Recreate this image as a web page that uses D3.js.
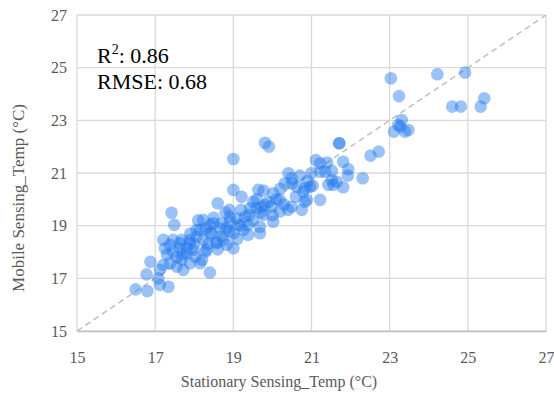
<!DOCTYPE html>
<html>
<head>
<meta charset="utf-8">
<script src="https://cdn.jsdelivr.net/npm/d3@7"></script>
<style>
html,body{margin:0;padding:0;background:#fff;}
svg{display:block;}
</style>
</head>
<body>
<svg id="chart" width="554" height="394"></svg>
<script>
const xTicks = [15,17,19,21,23,25,27];
const yTicks = [15,17,19,21,23,25,27];
const xTitle = "Stationary Sensing_Temp (°C)";
const yTitle = "Mobile Sensing_Temp (°C)";
const stationaryTemp = [
16.5,16.8,16.78,16.88,17.12,17.34,17.08,17.12,17.21,17.38,17.55,17.68,17.81,17.46,17.72,17.89,18.02,18.15,18.4,18.28,
17.89,18.06,18.23,18.15,18.4,18.49,18.57,17.64,17.38,17.25,17.21,17.46,17.68,17.64,17.81,17.98,18.32,17.89,18.06,18.23,
18.4,18.45,18.57,18.83,19.0,18.66,18.91,17.42,17.49,18.6,18.7,18.83,19.09,18.91,19.13,19.38,19.68,19.38,19.68,19.0,
19.26,19.3,19.43,19.51,19.6,19.73,19.81,19.98,20.19,20.02,19.77,20.49,20.75,19.0,19.21,19.0,19.81,19.91,19.64,19.77,
20.02,20.19,20.32,20.41,20.49,20.62,20.79,20.83,20.96,21.11,21.22,21.22,21.35,21.52,21.52,21.56,21.43,21.65,21.81,21.22,
21.03,20.83,20.88,21.71,21.71,22.51,22.72,22.31,21.94,21.93,21.81,23.03,24.22,24.93,23.24,24.6,24.82,25.33,25.42,23.31,
23.22,23.11,23.48,23.39,23.27,18.3,18.7,18.9,19.1,19.5,19.2,19.9,20.1,20.3,20.6,20.5,20.7,19.6,18.8,18.5,
18.0,17.7,18.2,18.6,18.1,17.9,19.4,20.0,20.4,21.0,21.4,20.9,19.2,18.9,19.7,20.2,18.35,17.55,17.3,18.75
];
const mobileTemp = [
16.58,16.52,17.15,17.63,16.75,16.68,17.0,17.32,17.51,17.57,17.82,17.7,17.95,18.01,17.32,17.57,17.82,17.57,17.22,18.01,
18.33,18.58,18.46,18.84,18.71,19.09,18.33,18.33,18.27,18.14,18.46,18.46,18.46,18.14,18.14,18.08,18.08,18.46,18.84,19.22,
19.03,18.71,18.39,18.27,18.14,18.9,19.15,19.49,19.03,19.85,19.09,18.9,19.28,19.34,19.03,19.03,18.96,18.65,18.71,18.71,
18.84,19.34,19.66,19.91,19.66,19.72,19.79,19.72,19.54,19.15,19.41,19.72,19.6,20.36,20.1,21.53,22.15,22.0,20.36,20.33,
20.23,19.98,20.61,20.99,20.8,20.48,20.29,19.91,20.48,21.49,21.37,21.05,21.05,21.08,20.73,20.55,20.55,20.67,20.46,19.98,
20.52,20.42,19.98,22.13,22.13,21.66,21.81,20.8,21.14,20.9,21.43,24.6,24.75,24.81,23.92,23.52,23.52,23.52,23.84,23.01,
22.82,22.57,22.63,22.57,22.76,18.9,18.6,18.8,18.5,19.2,19.6,19.9,20.0,19.8,20.1,20.6,20.9,20.0,19.5,19.3,
18.3,17.9,17.7,18.1,19.2,18.7,19.4,19.4,19.6,21.0,21.4,20.7,19.0,19.6,19.5,20.4,18.3,17.45,17.9,18.45
];
const statLabels = ["R²: 0.86","RMSE: 0.68"];

const svg = d3.select("#chart");
const pLeft = 77, pRight = 546, pTop = 15, pBottom = 331;
const x = d3.scaleLinear().domain([15,27]).range([pLeft,pRight]);
const y = d3.scaleLinear().domain([15,27]).range([pBottom,pTop]);
const font = "'Liberation Serif','Times New Roman',serif";
const grey = "#d9d9d9";

// gridlines
svg.append("g").selectAll("line").data(xTicks).join("line")
  .attr("x1",d=>x(d)).attr("x2",d=>x(d)).attr("y1",pTop).attr("y2",pBottom)
  .attr("stroke",grey).attr("stroke-width",1.3);
svg.append("g").selectAll("line").data(yTicks).join("line")
  .attr("x1",pLeft).attr("x2",pRight).attr("y1",d=>y(d)).attr("y2",d=>y(d))
  .attr("stroke",grey).attr("stroke-width",1.3);

// axes (labels)
const xAxis = svg.append("g").attr("transform",`translate(0,${pBottom})`)
  .call(d3.axisBottom(x).tickValues(xTicks).tickSize(0).tickPadding(21));
xAxis.select(".domain").attr("stroke","#bfbfbf").attr("stroke-width",1.3);
xAxis.selectAll("text").attr("font-family",font).attr("font-size",16).attr("fill","#595959");

const yAxis = svg.append("g").attr("transform",`translate(${pLeft},0)`)
  .call(d3.axisLeft(y).tickValues(yTicks).tickSize(0).tickPadding(10));
yAxis.select(".domain").remove();
yAxis.selectAll("text").attr("font-family",font).attr("font-size",16).attr("fill","#595959");

// diagonal 1:1 line
svg.append("line")
  .attr("x1",x(15)).attr("y1",y(15)).attr("x2",x(27)).attr("y2",y(27))
  .attr("stroke","#bfbfbf").attr("stroke-width",1.5).attr("stroke-dasharray","6,4");

// points
const pts = stationaryTemp.map((d,i)=>({x:d,y:mobileTemp[i]}));
svg.append("g").selectAll("circle").data(pts).join("circle")
  .attr("cx",d=>x(d.x)).attr("cy",d=>y(d.y)).attr("r",6.3)
  .attr("fill","#1f78ee").attr("fill-opacity",0.45);

// stats text
const st = svg.append("g").attr("font-family",font).attr("font-size",22).attr("fill","#000");
const t1 = st.append("text").attr("x",97).attr("y",63);
t1.append("tspan").text("R");
t1.append("tspan").text("2").attr("font-size",14).attr("dy",-9);
t1.append("tspan").text(": 0.86").attr("dy",9);
st.append("text").attr("x",97).attr("y",89).text(statLabels[1]);

// axis titles
svg.append("text").attr("x",279).attr("y",387).attr("text-anchor","middle")
  .attr("font-family",font).attr("font-size",16).attr("fill","#595959").text(xTitle);
svg.append("text").attr("transform","translate(24,198) rotate(-90)").attr("text-anchor","middle")
  .attr("font-family",font).attr("font-size",17).attr("fill","#595959").text(yTitle);
</script>
</body>
</html>
